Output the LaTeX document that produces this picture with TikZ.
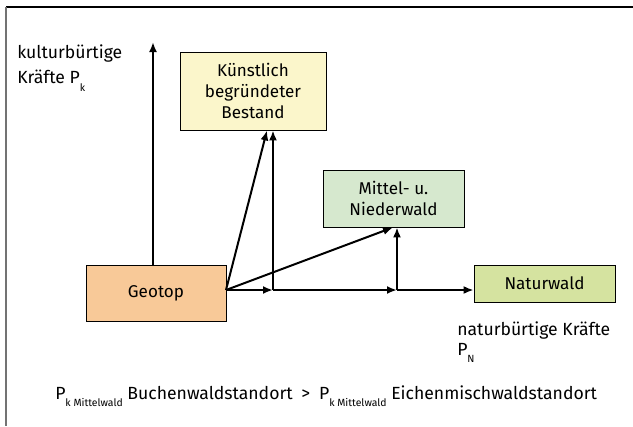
\documentclass[tikz,border=0pt]{standalone}
\usepackage{fontspec}
\setmainfont{Fira Sans}
\usetikzlibrary{arrows.meta}

\definecolor{geofill}{HTML}{F8C998}
\definecolor{kunstfill}{HTML}{FBF6CB}
\definecolor{mittelfill}{HTML}{D6E8CE}
\definecolor{naturfill}{HTML}{D5E3A0}
\newcommand{\lowsub}[1]{\raisebox{-.8ex}{\fontsize{7.8}{8}\selectfont #1}}

\tikzset{
  box/.style={draw, line width=0.6pt, inner sep=0pt, align=center,
    font=\fontsize{12.8}{15.5}\selectfont},
  arr/.style={-{Latex[length=7.5pt,width=6pt]}, line width=1.5pt},
  lbl/.style={inner sep=0pt, align=left, font=\fontsize{13.2}{15}\selectfont}
}

\begin{document}
\begin{tikzpicture}[x=0.75pt,y=0.75pt,yscale=-1,xscale=1]
\useasboundingbox (0,0) rectangle (633,426);

% frame
\draw [line width=0.8pt] (6,7) -- (633,7);
\draw [line width=0.8pt, black!55] (6,7) -- (6,426);

% boxes
\node [box, fill=geofill, minimum width=105pt, minimum height=42pt] (geo) at (156,293) {Geotop};
\node [box, fill=kunstfill, minimum width=109.5pt, minimum height=58.5pt] (kunst) at (253,91) {Künstlich\\begründeter\\Bestand};
\node [box, fill=mittelfill, minimum width=105.75pt, minimum height=42.75pt] (mittel) at (393.5,198.5) {Mittel- u.\\Niederwald};
\node [box, fill=naturfill, minimum width=105.75pt, minimum height=27.75pt] (natur) at (544.5,283.5) {Naturwald};

% points on the axis
\coordinate (o) at (226,290);
\coordinate (j1) at (273,290);
\coordinate (j2) at (397,290);
\coordinate (top) at (153,42);

% arrows
\draw [arr] (geo.north -| top) -- (top);
\draw [arr] (o) -- (j1);
\draw [arr] (j1) -- (j2);
\draw [arr] (j2) -- (o -| natur.west);
\draw [arr] (j1) -- (j1 |- kunst.south);
\draw [arr] (o) -- ([xshift=-4.5pt]j1 |- kunst.south);
\draw [arr] (j2) -- (j2 |- mittel.south);
\draw [arr] (o) -- ([xshift=-3pt]j2 |- mittel.south);

% texts
\node [lbl, anchor=north west] (kultur) at (17,44) {kulturbürtige\\[4.5pt]Kräfte P\lowsub{k}};
\node [lbl, anchor=north west] (naturk) at (457,321) {naturbürtige Kräfte\\P\lowsub{N}};
\node [lbl, anchor=base west] (formel) at (55,399) {P\lowsub{k Mittelwald} Buchenwaldstandort\enspace>\enspace P\lowsub{k Mittelwald} Eichenmischwaldstandort};
\end{tikzpicture}
\end{document}
